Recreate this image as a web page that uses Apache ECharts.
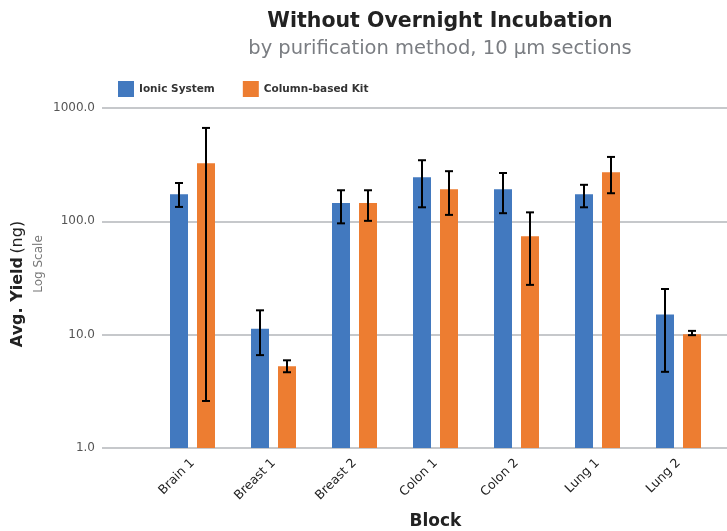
<!DOCTYPE html>
<html><head><meta charset="utf-8">
<script src="https://cdn.jsdelivr.net/npm/echarts@6/dist/echarts.min.js"></script>
<style>html,body{margin:0;padding:0;background:#fff}#c{width:727px;height:531px}</style>
</head><body><div id="c"></div>
<script>
const categories = ['Brain 1','Breast 1','Breast 2','Colon 1','Colon 2','Lung 1','Lung 2'];
const ionicValues = [173, 11.3, 145, 245, 192, 173, 15.1];
const ionicLow = [134, 6.6, 96, 133, 118, 133, 4.7];
const ionicHigh = [218, 16.4, 188, 346, 267, 210, 25.3];
const columnValues = [326, 5.26, 145, 192, 74, 271, 10.1];
const columnLow = [2.6, 4.66, 101, 114, 27.5, 177, 9.9];
const columnHigh = [667, 5.94, 188, 277, 120, 370, 10.8];
const yTicks = [1, 10, 100, 1000];

const chart = echarts.init(document.getElementById('c'));
const BLUE = '#4279BF', ORANGE = '#ED7D31';
const FONT = 'DejaVu Sans';

function errSeries(name, low, high, offset) {
  return {
    type: 'custom', name: name + ' err', xAxisIndex: 1, yAxisIndex: 1, z: 5,
    data: low.map((l, i) => [i, l, high[i]]),
    renderItem: function (params, api) {
      const x = api.coord([api.value(0), 1])[0] + offset;
      const y1 = api.coord([api.value(0), api.value(1)])[1];
      const y2 = api.coord([api.value(0), api.value(2)])[1];
      const hw = 4;
      const st = { stroke: '#000', lineWidth: 2 };
      return { type: 'group', children: [
        { type: 'line', shape: { x1: x, y1: y1, x2: x, y2: y2 }, style: st },
        { type: 'line', shape: { x1: x - hw, y1: y1, x2: x + hw, y2: y1 }, style: st },
        { type: 'line', shape: { x1: x - hw, y1: y2, x2: x + hw, y2: y2 }, style: st }
      ]};
    }
  };
}

chart.setOption({
  animation: false,
  textStyle: { fontFamily: FONT },
  title: {
    text: 'Without Overnight Incubation',
    subtext: 'by purification method, 10 µm sections',
    left: 435, top: 6, textAlign: 'center',
    textStyle: { fontSize: 20.5, fontWeight: 'bold', color: '#222', fontFamily: FONT },
    subtextStyle: { fontSize: 19.5, color: '#7a7d82', fontFamily: FONT },
    itemGap: 7
  },
  legend: {
    left: 118, top: 81, padding: 0, itemWidth: 16, itemHeight: 16, itemGap: 28,
    icon: 'rect',
    textStyle: { fontSize: 10.5, fontWeight: 'bold', color: '#333', fontFamily: FONT },
    data: ['Ionic System', 'Column-based Kit']
  },
  grid: [
    { left: 102, right: 0, top: 108, bottom: 83, outerBoundsMode: 'none', containLabel: false },
    { left: 152, right: 8, top: 108, bottom: 83, outerBoundsMode: 'none', containLabel: false }
  ],
  xAxis: [
    { type: 'category', gridIndex: 0, data: ['a'], show: false },
    { type: 'category', gridIndex: 1, data: categories,
      axisLine: { show: false }, axisTick: { show: false },
      axisLabel: { rotate: 45, fontSize: 12.5, color: '#222', margin: 13, fontFamily: FONT },
      name: 'Block', nameLocation: 'middle', nameGap: 65,
      nameTextStyle: { fontSize: 17, fontWeight: 'bold', color: '#222', fontFamily: FONT } }
  ],
  yAxis: [
    { type: 'log', gridIndex: 0, min: 1, max: 1000, logBase: 10,
      axisLine: { show: false }, axisTick: { show: false },
      axisLabel: { formatter: v => Number(v).toFixed(1), fontSize: 12, color: '#555', margin: 7, fontFamily: FONT },
      splitLine: { lineStyle: { color: '#c6c8cb', width: 2 } } },
    { type: 'log', gridIndex: 1, min: 1, max: 1000, logBase: 10, show: false,
      splitLine: { show: false } }
  ],
  graphic: [
    { type: 'text', x: 18, y: 284, rotation: Math.PI / 2,
      style: { text: '{b|Avg. Yield} {n|(ng)}', textAlign: 'center', textVerticalAlign: 'middle',
        rich: { b: { fontSize: 16, fontWeight: 'bold', fill: '#222', fontFamily: FONT },
                n: { fontSize: 16, fill: '#222', fontFamily: FONT } } } },
    { type: 'text', x: 39, y: 264, rotation: Math.PI / 2,
      style: { text: 'Log Scale', textAlign: 'center', textVerticalAlign: 'middle',
        fontSize: 12, fill: '#777', fontFamily: FONT } }
  ],
  series: [
    { type: 'bar', name: 'Ionic System', xAxisIndex: 1, yAxisIndex: 1, data: ionicValues,
      barWidth: 18, barGap: '50%', itemStyle: { color: BLUE } },
    { type: 'bar', name: 'Column-based Kit', xAxisIndex: 1, yAxisIndex: 1, data: columnValues,
      barWidth: 18, barGap: '50%', itemStyle: { color: ORANGE } },
    errSeries('Ionic System', ionicLow, ionicHigh, -13.5),
    errSeries('Column-based Kit', columnLow, columnHigh, 13.5)
  ]
});
</script></body></html>
